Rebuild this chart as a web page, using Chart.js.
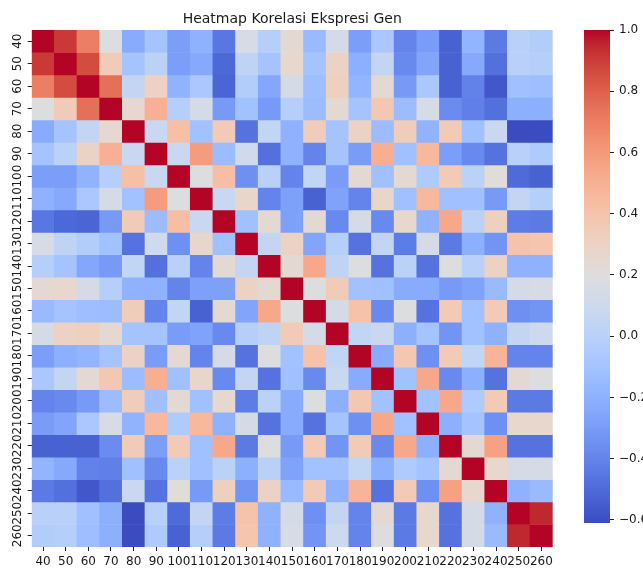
<!DOCTYPE html>
<html>
<head>
<meta charset="utf-8">
<script src="https://cdn.jsdelivr.net/npm/chart.js@4.4.1/dist/chart.umd.min.js"></script>
<style>
  html, body { margin: 0; padding: 0; background: #ffffff; }
  #wrap { position: relative; width: 643px; height: 568px; overflow: hidden; }
  #heat { position: absolute; left: 0; top: 0; width: 643px; height: 568px; }
  #bar  { position: absolute; left: 560px; top: 0; width: 83px; height: 568px; }
</style>
</head>
<body>
<div id="wrap">
  <canvas id="heat" width="643" height="568"></canvas>
  <canvas id="bar" width="83" height="568"></canvas>
</div>
<script>
// Gene labels (rows top-to-bottom, columns left-to-right)
const genes = ['40','50','60','70','80','90','100','110','120','130','140','150',
               '160','170','180','190','200','210','220','230','240','250','260'];

// Correlation matrix, upper triangle: each row starts at its own diagonal.
const row40  = [1.00, 0.91, 0.70, 0.19, -0.23, -0.10, -0.29, -0.20, -0.45, 0.15, -0.02, 0.24, -0.15, 0.14, -0.29, -0.07, -0.40, -0.30, -0.53, -0.18, -0.44, 0.00, -0.03];
const row50  = [1.00, 0.86, 0.35, -0.10, 0.01, -0.29, -0.24, -0.51, 0.03, -0.10, 0.26, -0.10, 0.30, -0.21, 0.05, -0.38, -0.26, -0.53, -0.24, -0.48, 0.00, -0.02];
const row60  = [1.00, 0.75, 0.05, 0.30, -0.19, -0.07, -0.52, -0.03, -0.25, 0.14, -0.13, 0.32, -0.18, 0.24, -0.31, -0.07, -0.53, -0.41, -0.57, -0.12, -0.13];
const row70  = [1.00, 0.25, 0.50, -0.02, 0.14, -0.31, -0.11, -0.31, -0.02, -0.14, 0.24, -0.10, 0.38, -0.14, 0.15, -0.37, -0.42, -0.48, -0.21, -0.21];
const row80  = [1.00, 0.08, 0.42, -0.11, 0.35, -0.47, 0.04, -0.20, 0.34, -0.10, 0.30, -0.14, 0.34, -0.19, 0.35, -0.12, 0.08, -0.61, -0.61];
const row90  = [1.00, 0.08, 0.59, -0.14, 0.11, -0.48, -0.20, -0.40, -0.10, -0.30, 0.51, -0.12, 0.46, -0.29, -0.38, -0.47, 0.00, -0.05];
const row100 = [1.00, 0.19, 0.43, -0.35, 0.00, -0.40, 0.04, -0.30, 0.24, -0.12, 0.24, -0.05, 0.36, 0.01, 0.21, -0.50, -0.53];
const row110 = [1.00, 0.08, 0.27, -0.40, -0.28, -0.53, -0.27, -0.40, 0.27, -0.12, 0.46, -0.12, -0.12, -0.31, 0.05, -0.02];
const row120 = [1.00, -0.12, 0.24, -0.28, 0.24, -0.38, 0.14, -0.38, 0.26, -0.20, 0.54, 0.01, 0.32, -0.43, -0.44];
const row130 = [1.00, 0.05, 0.30, -0.26, -0.02, -0.47, 0.05, -0.43, 0.14, -0.44, -0.21, -0.33, 0.40, 0.39];
const row140 = [1.00, 0.24, 0.54, 0.03, 0.19, -0.47, 0.01, -0.47, 0.19, 0.00, 0.30, -0.20, -0.20];
const row150 = [1.00, 0.19, 0.35, -0.11, -0.12, -0.23, -0.23, -0.31, -0.27, -0.15, 0.14, 0.15];
const row160 = [1.00, 0.14, 0.41, -0.38, 0.19, -0.47, 0.36, -0.11, 0.35, -0.35, -0.33];
const row170 = [1.00, 0.04, 0.08, -0.21, -0.10, -0.33, -0.11, -0.20, 0.05, 0.10];
const row180 = [1.00, -0.23, 0.37, -0.35, 0.35, 0.04, 0.48, -0.40, -0.40];
const row190 = [1.00, -0.11, 0.54, -0.38, -0.21, -0.47, 0.24, 0.19];
const row200 = [1.00, -0.11, 0.54, -0.05, 0.36, -0.44, -0.44];
const row210 = [1.00, -0.21, -0.10, -0.35, 0.26, 0.26];
const row220 = [1.00, 0.24, 0.57, -0.47, -0.47];
const row230 = [1.00, 0.26, 0.14, 0.14];
const row240 = [1.00, -0.20, -0.15];
const row250 = [1.00, 0.95];
const row260 = [1.00];

// Colorbar tick values
const colorbarTicks = [1.0, 0.8, 0.6, 0.4, 0.2, 0.0, -0.2, -0.4, -0.6];

const upperRows = [row40, row50, row60, row70, row80, row90, row100, row110, row120, row130,
                   row140, row150, row160, row170, row180, row190, row200, row210, row220,
                   row230, row240, row250, row260];

// Full symmetric matrix
const matrix = genes.map((_, i) => genes.map((_, j) =>
  i <= j ? upperRows[i][j - i] : upperRows[j][i - j]));
const allValues = matrix.flat();
const vmin = Math.min(...allValues);
const vmax = Math.max(...allValues);

// Diverging blue-white-red colour map (coolwarm)
const COOLWARM = [
  [59,76,192],[68,90,204],[77,104,215],[87,117,225],[98,130,234],[108,142,241],
  [119,154,247],[130,165,251],[141,176,254],[152,185,255],[163,194,255],[174,201,253],
  [184,208,249],[194,213,244],[204,217,238],[213,219,230],[221,221,221],[229,216,209],
  [236,211,197],[241,204,184],[245,196,172],[247,187,160],[247,177,148],[247,166,137],
  [244,154,123],[241,141,111],[236,127,99],[229,112,88],[222,96,77],[213,80,66],
  [203,62,56],[192,40,47],[180,4,38]
];
function rgbOf(c) { return 'rgb(' + c.map(Math.round).join(',') + ')'; }
function coolwarm(v) {
  let t = (v - vmin) / (vmax - vmin);
  t = Math.max(0, Math.min(1, t));
  const s = t * (COOLWARM.length - 1);
  const i = Math.min(Math.floor(s), COOLWARM.length - 2);
  const f = s - i;
  const a = COOLWARM[i], b = COOLWARM[i + 1];
  return rgbOf([0, 1, 2].map(k => a[k] + (b[k] - a[k]) * f));
}

const FONT = 'DejaVu Sans';
const TEXT = '#1a1a1a';
const n = genes.length;

// Heatmap: one stacked unit bar per cell, coloured by its correlation
const heatDatasets = matrix.map((row, r) => ({
  label: genes[r],
  data: row.map(() => 1),
  backgroundColor: row.map(coolwarm),
  borderWidth: 0,
  barPercentage: 1,
  categoryPercentage: 1
}));

new Chart(document.getElementById('heat'), {
  type: 'bar',
  data: { labels: genes, datasets: heatDatasets },
  options: {
    responsive: false,
    animation: false,
    events: [],
    layout: { padding: { left: 0, right: 90.3, top: 0, bottom: 0 } },
    plugins: {
      legend: { display: false },
      tooltip: { enabled: false },
      title: {
        display: true,
        text: 'Heatmap Korelasi Ekspresi Gen',
        fullSize: false,
        color: TEXT,
        font: { family: FONT, size: 14, weight: 'normal' },
        padding: { top: 10.5, bottom: 2.7 }
      }
    },
    scales: {
      x: {
        type: 'category',
        stacked: true,
        offset: true,
        border: { display: false },
        grid: { display: true, drawOnChartArea: false, drawTicks: true, tickLength: 4, offset: false, color: '#222' },
        ticks: { autoSkip: false, minRotation: 0, maxRotation: 0, padding: 4, color: TEXT,
                 font: { family: FONT, size: 12 } },
        afterFit: s => { s.height = 21; }
      },
      y: {
        type: 'linear',
        stacked: true,
        reverse: true,
        min: 0,
        max: n,
        border: { display: false },
        grid: { display: true, drawOnChartArea: false, drawTicks: true, tickLength: 4, color: '#222' },
        afterBuildTicks: s => { s.ticks = genes.map((g, i) => ({ value: i + 0.5 })); },
        ticks: { autoSkip: false, minRotation: 90, maxRotation: 90, crossAlign: 'center', padding: -1.5,
                 color: TEXT, font: { family: FONT, size: 12 },
                 callback: (value, index) => genes[index] },
        afterFit: s => { s.width = 31.7; }
      }
    }
  }
});

// Colorbar: one floating bar spanning the colour range, filled with the map
function fmtTick(v) {
  const s = Math.abs(v).toFixed(1);
  return v < -1e-9 ? '\u2212' + s : s;
}
new Chart(document.getElementById('bar'), {
  type: 'bar',
  data: {
    labels: [''],
    datasets: [{
      data: [[vmin, vmax]],
      borderWidth: 0,
      barPercentage: 1,
      categoryPercentage: 1,
      backgroundColor: ctx => {
        const chart = ctx.chart;
        if (!chart.chartArea) return null;
        const ys = chart.scales.y;
        const g = chart.ctx.createLinearGradient(0, ys.getPixelForValue(vmin), 0, ys.getPixelForValue(vmax));
        COOLWARM.forEach((c, i) => g.addColorStop(i / (COOLWARM.length - 1), rgbOf(c)));
        return g;
      }
    }]
  },
  options: {
    responsive: false,
    animation: false,
    events: [],
    layout: { padding: { left: 24, right: 0, top: 30, bottom: 45 } },
    plugins: { legend: { display: false }, tooltip: { enabled: false } },
    scales: {
      x: { display: false },
      y: {
        position: 'right',
        min: vmin,
        max: vmax,
        border: { display: false },
        grid: { display: true, drawOnChartArea: false, drawTicks: true, tickLength: 4, color: '#222' },
        afterBuildTicks: s => { s.ticks = colorbarTicks.map(v => ({ value: v })); },
        ticks: { padding: 5, color: TEXT, font: { family: FONT, size: 12 }, callback: v => fmtTick(v) },
        afterFit: s => { s.width = 33; }
      }
    }
  }
});
</script>
</body>
</html>
